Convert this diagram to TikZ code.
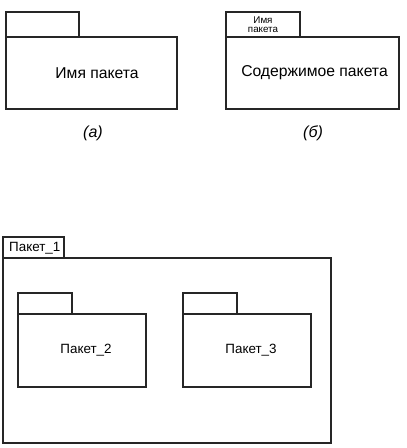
\documentclass[tikz,border=0pt]{standalone}
\usepackage{fontspec}
\setmainfont{Liberation Sans}
\begin{document}
\begin{tikzpicture}[x=1pt,y=-1pt,
  box/.style={draw=black!85,line width=1.2pt},
  lbl/.style={font=\fontsize{15.7}{17}\selectfont,inner sep=0pt},
  lblp/.style={font=\fontsize{13.4}{15}\selectfont,inner sep=0pt},
  small/.style={font=\fontsize{9.8}{9}\selectfont,inner sep=0pt,align=center},
  captext/.style={font=\fontsize{16}{18}\selectfont\itshape,inner sep=0pt}]
\useasboundingbox (0,0) rectangle (407,448);
% (a)
\draw[box] (6,37) rectangle (79,12);
\draw[box] (6,37) rectangle (177,109);
\node[lbl] (na) at (97,73) {Имя пакета};
\node[captext] (ca) at (93,133) {(a)};
% (b)
\draw[box] (226,37) rectangle (300,12);
\draw[box] (226,37) rectangle (399,109);
\node[small] (tb) at (263,24.5) {Имя\\пакета};
\node[lbl] (nb) at (314.5,73) {Содержимое пакета};
\node[captext] (cb) at (313,133) {(б)};
% bottom
\draw[box] (3,258) rectangle (64,237);
\draw[box] (3,258) rectangle (331,443);
\node[lblp,anchor=west] (p1) at (9,248) {Пакет\_1};
\draw[box] (18,314) rectangle (72,293);
\draw[box] (18,314) rectangle (146,387);
\node[lblp] (p2) at (86,350) {Пакет\_2};
\draw[box] (183,314) rectangle (237,293);
\draw[box] (183,314) rectangle (311,387);
\node[lblp] (p3) at (251,350) {Пакет\_3};
\end{tikzpicture}
\end{document}
